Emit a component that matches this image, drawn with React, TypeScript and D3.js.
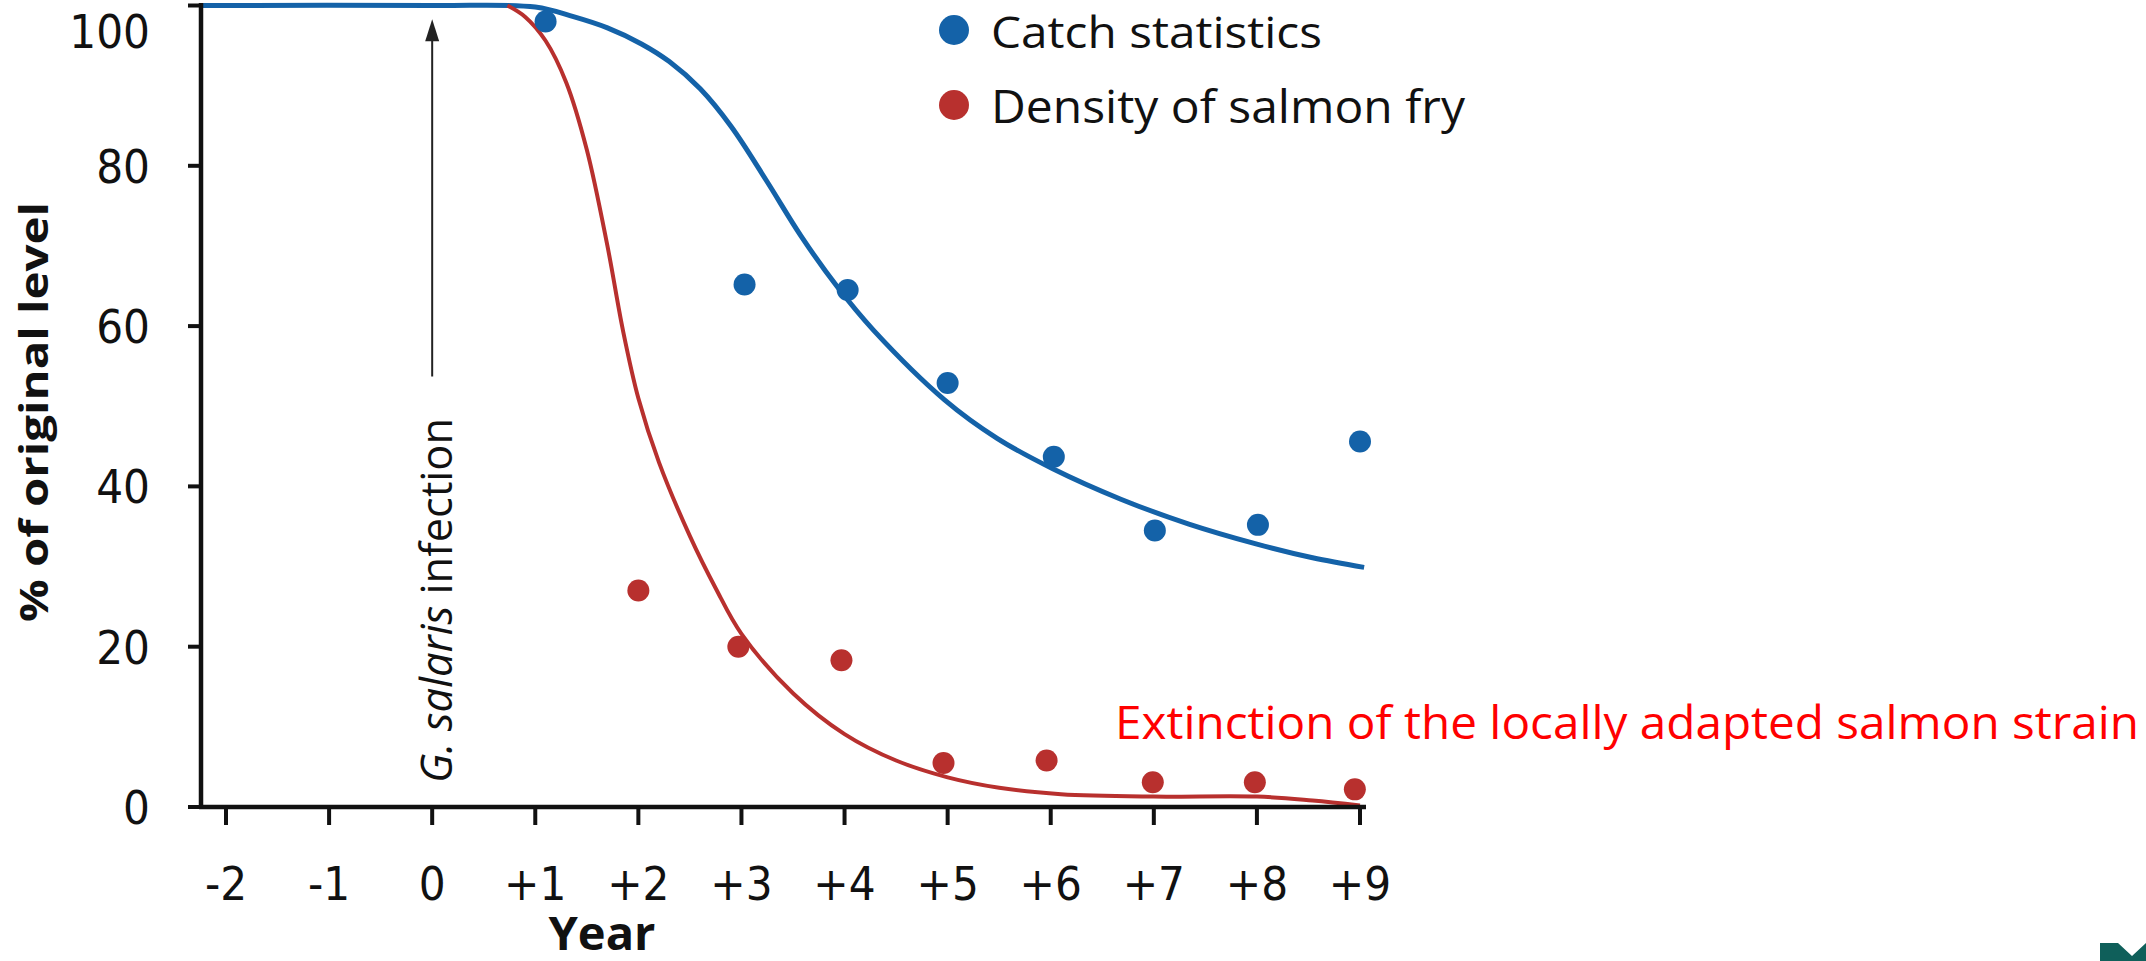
import React from 'react';
import * as d3 from 'd3';

// years after infection, tick labels on the x axis
const years = [-2, -1, 0, 1, 2, 3, 4, 5, 6, 7, 8, 9];
const yearLabels = ['-2', '-1', '0', '+1', '+2', '+3', '+4', '+5', '+6', '+7', '+8', '+9'];
const pctTicks = [0, 20, 40, 60, 80, 100];

// observed points
const catchYears = [1.1, 3.03, 4.03, 5.0, 6.03, 7.01, 8.01, 9.0];
const catchPct = [98, 65.2, 64.5, 52.9, 43.7, 34.5, 35.2, 45.6];
const fryYears = [2.0, 2.97, 3.97, 4.96, 5.96, 6.99, 7.98, 8.95];
const fryPct = [27, 20, 18.3, 5.5, 5.8, 3.1, 3.1, 2.2];

// fitted trend lines
const catchFitYears = [-2.26, 0, 1.0, 1.37, 1.7, 2.03, 2.3, 2.6, 2.9, 3.24, 3.58, 3.93, 4.28, 4.97, 5.48, 6.02, 6.68, 7.34, 8.0, 8.54, 9.04];
const catchFitPct = [100, 100, 99.8, 98.6, 97.2, 95.2, 93.0, 89.6, 84.9, 78.2, 71.2, 64.9, 59.5, 50.8, 46.0, 42.2, 38.4, 35.3, 32.8, 31.1, 29.9];
const fryFitYears = [0.73, 0.9, 1.1, 1.3, 1.5, 1.7, 1.85, 2.0, 2.2, 2.5, 2.75, 3.0, 3.5, 4.0, 4.5, 5.0, 5.5, 6.1, 7.0, 8.0, 8.54, 9.0];
const fryFitPct = [100, 98.6, 95.6, 90.4, 82, 70, 59.5, 51, 43, 33.8, 27.3, 21.6, 14.2, 9.1, 5.8, 3.7, 2.4, 1.6, 1.3, 1.3, 0.8, 0.2];

const BLUE = '#1462a8';
const RED = '#b8302e';

export default function App() {
  const width = 2146;
  const height = 961;

  const x = d3.scaleLinear().domain([-2, 9]).range([226, 1360]);
  const y = d3.scaleLinear().domain([0, 100]).range([807, 5.5]);

  const line = d3.line<[number, number]>()
    .x(d => x(d[0]))
    .y(d => y(d[1]))
    .curve(d3.curveCatmullRom.alpha(0.5));

  const catchFit = line(catchFitYears.map((v, i) => [v, catchFitPct[i]]));
  const fryFit = line(fryFitYears.map((v, i) => [v, fryFitPct[i]]));

  const axisX = 201;
  const sans = '"Open Sans", "Noto Sans", sans-serif';
  const narrow = '"Liberation Sans Narrow", "DejaVu Sans Condensed", sans-serif';

  // arrow from the infection year up towards the top
  const ax = x(0);
  const arrowTip = y(98.3);
  const arrowHead = `M${ax},${arrowTip} L${ax - 7},${arrowTip + 22} L${ax + 7},${arrowTip + 22} Z`;

  return (
    <svg width={width} height={height} style={{ position: 'absolute', left: 0, top: 0, background: '#fff' }}>
      {/* trend lines */}
      <path d={catchFit || ''} fill="none" stroke={BLUE} strokeWidth={5} />
      <path d={fryFit || ''} fill="none" stroke={RED} strokeWidth={4} />

      {/* infection arrow */}
      <line x1={ax} x2={ax} y1={y(53.7)} y2={arrowTip + 18} stroke="#222" strokeWidth={2} />
      <path d={arrowHead} fill="#222" />
      <text
        transform={`translate(${ax + 20},${y(3)}) rotate(-90)`}
        fontFamily={sans} fontSize={44} textLength={365} lengthAdjust="spacingAndGlyphs" fill="#111">
        <tspan fontStyle="italic">G. salaris</tspan> infection
      </text>

      {/* points */}
      {catchYears.map((v, i) => (
        <circle key={'c' + i} cx={x(v)} cy={y(catchPct[i])} r={11} fill={BLUE} />
      ))}
      {fryYears.map((v, i) => (
        <circle key={'f' + i} cx={x(v)} cy={y(fryPct[i])} r={11} fill={RED} />
      ))}

      {/* axes */}
      <line x1={axisX} x2={axisX} y1={3} y2={y(0) + 2} stroke="#111" strokeWidth={4.5} />
      <line x1={axisX - 2} x2={x(9) + 6} y1={y(0)} y2={y(0)} stroke="#111" strokeWidth={4.5} />
      {pctTicks.map(t => (
        <g key={'yt' + t}>
          <line x1={axisX - 13} x2={axisX} y1={y(t)} y2={y(t)} stroke="#111" strokeWidth={4} />
          <text x={150} y={t === 100 ? y(t) + 42 : y(t) + 17} textAnchor="end" fontFamily={narrow} fontSize={47} fill="#111">{t}</text>
        </g>
      ))}
      {years.map((t, i) => (
        <g key={'xt' + t}>
          <line x1={x(t)} x2={x(t)} y1={y(0)} y2={y(0) + 18} stroke="#111" strokeWidth={4} />
          <text x={x(t)} y={900} textAnchor="middle" fontFamily={narrow} fontSize={47} fill="#111">{yearLabels[i]}</text>
        </g>
      ))}

      {/* axis titles */}
      <text x={602} y={950} textAnchor="middle" fontFamily={sans} fontWeight="bold" fontSize={46} textLength={107} lengthAdjust="spacingAndGlyphs" fill="#111">Year</text>
      <text transform="translate(48,412) rotate(-90)" textAnchor="middle" fontFamily={sans} fontWeight="bold" fontSize={40} textLength={420} lengthAdjust="spacingAndGlyphs" fill="#111">% of original level</text>

      {/* legend */}
      <circle cx={954} cy={30} r={15} fill={BLUE} />
      <text x={991} y={48} fontFamily={sans} fontSize={44} textLength={331} lengthAdjust="spacingAndGlyphs" fill="#111">Catch statistics</text>
      <circle cx={954} cy={105} r={15} fill={RED} />
      <text x={991} y={123} fontFamily={sans} fontSize={46} textLength={474} lengthAdjust="spacingAndGlyphs" fill="#111">Density of salmon fry</text>

      {/* annotation */}
      <text x={1115} y={739} fontFamily={sans} fontSize={46} textLength={1024} lengthAdjust="spacingAndGlyphs" fill="#ff0000">Extinction of the locally adapted salmon strain</text>

      {/* corner logo */}
      <path d="M2100,943 L2118,943 L2132,956 L2146,943 L2146,961 L2100,961 Z" fill="#0f5f5a" />
    </svg>
  );
}
